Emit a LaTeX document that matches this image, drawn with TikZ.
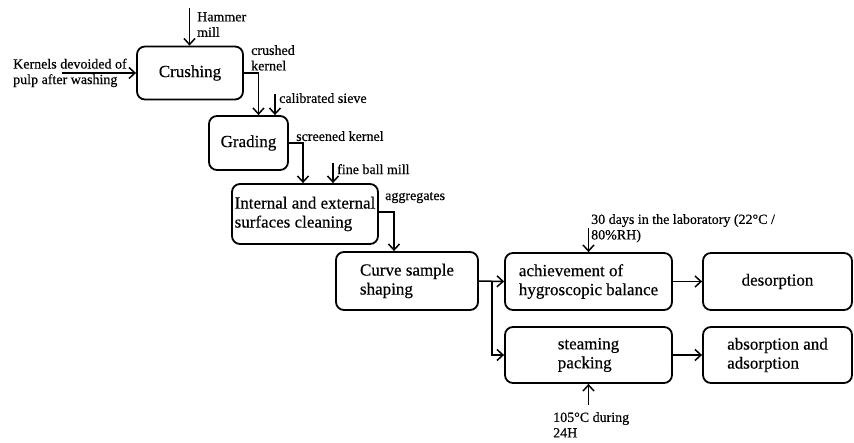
\documentclass[tikz,border=0pt]{standalone}
\usepackage{fontspec}
\setmainfont{Liberation Serif}[FakeBold=0.4]
\usetikzlibrary{arrows.meta}
\tikzset{
	stage/.style={draw, line width=1.8pt, rounded corners=8pt, align=left, inner sep=0pt, font=\fontsize{17}{19}\selectfont},
	note/.style={anchor=north west, inner sep=0pt, align=left, font=\fontsize{14}{15.5}\selectfont},
	flow/.style={line width=1.5pt, -{Straight Barb[length=6pt,width=11pt]}}
}

\begin{document}
\begin{tikzpicture}[x=1pt,y=-1pt]
				\useasboundingbox (0,0) rectangle (854,443);
				
				% process stages
				\node[stage, minimum width=106pt, minimum height=53pt] (crush) at (190,73) {Crushing};
				\node[stage, minimum width=79pt, minimum height=54pt] (grade) at (248.5,143) {Grading};
				\node[stage, minimum width=146pt, minimum height=60pt] (clean) at (305,214) {Internal and external\\surfaces cleaning};
				\node[stage, minimum width=142pt, minimum height=58pt] (curve) at (407,281) {Curve sample\\shaping};
				\node[stage, minimum width=167pt, minimum height=57pt] (balance) at (588.5,281.5) {achievement of\\hygroscopic balance};
				\node[stage, minimum width=167pt, minimum height=56pt] (steam) at (588.5,355) {steaming\\packing};
				\node[stage, minimum width=149pt, minimum height=57pt] (desorp) at (777.5,281.5) {desorption};
				\node[stage, minimum width=149pt, minimum height=56pt] (absorp) at (777.5,355) {absorption and\\adsorption};
				
				% inputs and intermediate products
				\node[note] (hammer) at (197,12) {Hammer\\mill};
				\node[note] (kernels) at (13,58.5) {Kernels devoided of\\pulp after washing};
				\node[note] (crushed) at (251,45) {crushed\\kernel};
				\node[note] (sieve) at (279,93) {calibrated sieve};
				\node[note] (screened) at (296,131) {screened kernel};
				\node[note] (ballmill) at (337,164) {fine ball mill};
				\node[note] (aggr) at (385,192) {aggregates};
				\node[note] (lab) at (591,214) {30 days in the laboratory (22°C /\\80\%RH)};
				\node[note] (oven) at (553,412) {105°C during\\24H};
				
				\coordinate (hammerin) at (189.5,8);
				\coordinate (kernelsin) at (62,73);
				\coordinate (sievein) at (275,94);
				\coordinate (ballin) at (333,163);
				\coordinate (labin) at (588.5,228);
				\coordinate (ovenin) at (588.5,405);
				\coordinate (split) at (492,281);
				
				% connectors
				\draw[flow] (hammerin) -- (hammerin |- crush.north);
				\draw[flow] (kernelsin) -- (kernelsin -| crush.west);
				\draw[flow] (crush.east) -| ([xshift=10pt]grade.north);
				\draw[flow] (sievein) -- (sievein |- grade.north);
				\draw[flow] (grade.east) -| ([xshift=-2pt]clean.north);
				\draw[flow] (ballin) -- (ballin |- clean.north);
				\draw[flow] ([yshift=2pt]clean.east) -| ([xshift=-13pt]curve.north);
				\draw[flow] (curve.east) -- (balance.west);
				\draw[flow] (split) |- (steam.west);
				\draw[flow] (labin) -- (balance.north);
				\draw[flow] (ovenin) -- (steam.south);
				\draw[flow] (balance.east) -- (desorp.west);
				\draw[flow] (steam.east) -- (absorp.west);
			\end{tikzpicture}
\end{document}
